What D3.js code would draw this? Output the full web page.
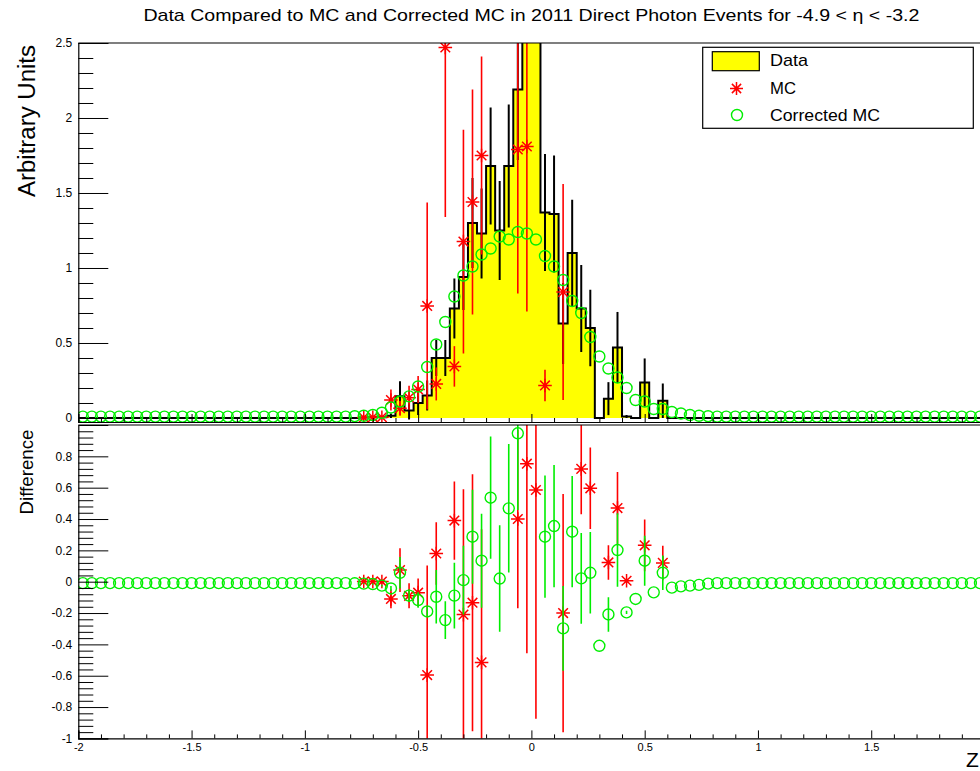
<!DOCTYPE html>
<html><head><meta charset="utf-8">
<script src="https://cdn.jsdelivr.net/npm/d3@7"></script>
<style>
body{margin:0;background:#fff}
svg{display:block}
text{font-family:"Liberation Sans",Arial,Helvetica,sans-serif;fill:#000}
</style>
</head><body>
<svg id="c" width="980" height="771"></svg>
<script>
// ---------------- data ----------------
const xMin = -2, xMax = 2, nBins = 100;
const titleText = "Data Compared to MC and Corrected MC in 2011 Direct Photon Events for -4.9 < \u03B7 < -3.2";
const seriesNames = ["Data", "MC", "Corrected MC"];

// Data histogram (bins 0..99)
const dataVals = [
  0,0,0,0,0,0,0,0,0,0,
  0,0,0,0,0,0,0,0,0,0,
  0,0,0,0,0,0,0,0,0,0,
  0,0.003,0.005,0.005,0.015,0.145,0.05,0.10,0.15,0.40,
  0.40,0.73,0.94,1.30,1.23,1.68,1.25,1.68,2.19,2.56,
  3.5,1.37,1.36,0.63,1.10,0.73,0.60,0,0.129,0.47,
  0.01,0,0.237,0,0.115,0,0,0,0,0,
  0,0,0,0,0,0,0,0,0,0,
  0,0,0,0,0,0,0,0,0,0,
  0,0,0,0,0,0,0,0,0,0];
const dataErr = [
  0,0,0,0,0,0,0,0,0,0,
  0,0,0,0,0,0,0,0,0,0,
  0,0,0,0,0,0,0,0,0,0,
  0,0.003,0.005,0.005,0.015,0.10,0.06,0.08,0.10,0.12,
  0.12,0.20,0.22,0.30,0.30,0.39,0.33,0.41,0.47,0.50,
  0.60,0.39,0.39,0.27,0.355,0.29,0.255,0,0.11,0.237,
  0.01,0,0.16,0,0.115,0,0,0,0,0,
  0,0,0,0,0,0,0,0,0,0,
  0,0,0,0,0,0,0,0,0,0,
  0,0,0,0,0,0,0,0,0,0];
// MC (null = empty bin)
const mcVals = [
  null,null,null,null,null,null,null,null,null,null,
  null,null,null,null,null,null,null,null,null,null,
  null,null,null,null,null,null,null,null,null,null,
  null,0.003,0.005,0.005,0.12,0.065,0.135,0.19,0.747,0.227,
  2.47,0.344,1.176,1.44,1.75,null,null,null,1.79,1.81,
  2.9,0.217,null,0.84,null,null,null,null,null,null,
  null,null,null,null,null,null,null,null,null,null,
  null,null,null,null,null,null,null,null,null,null,
  null,null,null,null,null,null,null,null,null,null,
  null,null,null,null,null,null,null,null,null,null];
const mcErr = [
  0,0,0,0,0,0,0,0,0,0,
  0,0,0,0,0,0,0,0,0,0,
  0,0,0,0,0,0,0,0,0,0,
  0,0.003,0.005,0.005,0.07,0.05,0.08,0.09,0.69,0.11,
  1.13,0.135,0.746,0.75,0.66,0,0,0,0.96,1.1,
  1.2,0.105,0,0.72,0,0,0,0,0,0,
  0,0,0,0,0,0,0,0,0,0,
  0,0,0,0,0,0,0,0,0,0,
  0,0,0,0,0,0,0,0,0,0,
  0,0,0,0,0,0,0,0,0,0];
// Corrected MC
const cmcVals = [
  0.009,0.009,0.009,0.009,0.009,0.009,0.009,0.009,0.009,0.009,
  0.009,0.009,0.009,0.009,0.009,0.009,0.009,0.009,0.009,0.009,
  0.009,0.009,0.009,0.009,0.009,0.009,0.009,0.009,0.009,0.009,
  0.012,0.015,0.02,0.035,0.07,0.11,0.144,0.21,0.34,0.49,
  0.64,0.81,0.95,1.01,1.09,1.13,1.21,1.19,1.24,1.23,
  1.19,1.08,1.01,0.92,0.78,0.70,0.54,0.41,0.33,0.27,
  0.20,0.12,0.11,0.06,0.06,0.04,0.03,0.02,0.015,0.012,
  0.009,0.009,0.009,0.009,0.009,0.009,0.009,0.009,0.009,0.009,
  0.009,0.009,0.009,0.009,0.009,0.009,0.009,0.009,0.009,0.009,
  0.009,0.009,0.009,0.009,0.009,0.009,0.009,0.009,0.009,0.009];
// Difference Data - MC (null = empty)
const diffMC = [
  null,null,null,null,null,null,null,null,null,null,
  null,null,null,null,null,null,null,null,null,null,
  null,null,null,null,null,null,null,null,null,null,
  null,0.001,0.001,0.001,-0.11,0.074,-0.09,-0.07,-0.596,0.18,
  -2.07,0.39,-0.21,-0.134,-0.515,1.68,1.25,1.68,0.40,0.753,
  0.585,1.15,1.36,-0.20,1.10,0.72,0.596,null,0.123,0.47,
  0.006,null,0.232,null,0.12,null,null,null,null,null,
  null,null,null,null,null,null,null,null,null,null,
  null,null,null,null,null,null,null,null,null,null,
  null,null,null,null,null,null,null,null,null,null];
const diffMCErr = [
  0,0,0,0,0,0,0,0,0,0,
  0,0,0,0,0,0,0,0,0,0,
  0,0,0,0,0,0,0,0,0,0,
  0,0.004,0.007,0.007,0.06,0.14,0.08,0.09,0.70,0.2,
  1.14,0.25,0.8,0.82,0.85,0.39,0.33,0.41,0.57,1.21,
  1.46,0.41,0.39,0.76,0.355,0.29,0.26,0,0.11,0.23,
  0.01,0,0.165,0,0.11,0,0,0,0,0,
  0,0,0,0,0,0,0,0,0,0,
  0,0,0,0,0,0,0,0,0,0,
  0,0,0,0,0,0,0,0,0,0];
// Difference Data - Corrected MC
const diffCMC = [
  -0.009,-0.009,-0.009,-0.009,-0.009,-0.009,-0.009,-0.009,-0.009,-0.009,
  -0.009,-0.009,-0.009,-0.009,-0.009,-0.009,-0.009,-0.009,-0.009,-0.009,
  -0.009,-0.009,-0.009,-0.009,-0.009,-0.009,-0.009,-0.009,-0.009,-0.009,
  -0.01,-0.012,-0.015,-0.025,-0.043,0.057,-0.089,-0.117,-0.19,-0.096,
  -0.245,-0.089,0.01,0.287,0.134,0.536,0.02,0.468,0.947,1.33,
  2.3,0.287,0.355,-0.298,0.319,0.021,0.057,-0.409,-0.209,0.202,
  -0.196,-0.11,0.134,-0.068,0.057,-0.038,-0.03,-0.025,-0.02,-0.012,
  -0.009,-0.009,-0.009,-0.009,-0.009,-0.009,-0.009,-0.009,-0.009,-0.009,
  -0.009,-0.009,-0.009,-0.009,-0.009,-0.009,-0.009,-0.009,-0.009,-0.009,
  -0.009,-0.009,-0.009,-0.009,-0.009,-0.009,-0.009,-0.009,-0.009,-0.009];
const diffCMCErr = [
  0,0,0,0,0,0,0,0,0,0,
  0,0,0,0,0,0,0,0,0,0,
  0,0,0,0,0,0,0,0,0,0,
  0,0.003,0.005,0.005,0.015,0.1,0.04,0.05,0.03,0.17,
  0.12,0.21,0.22,0.30,0.30,0.39,0.34,0.41,0.49,0.5,
  0.55,0.39,0.39,0.27,0.355,0.29,0.26,0,0.11,0.235,
  0.01,0,0.16,0,0.11,0,0,0,0,0,
  0,0,0,0,0,0,0,0,0,0,
  0,0,0,0,0,0,0,0,0,0,
  0,0,0,0,0,0,0,0,0,0];

// axis ticks / labels (the "2" label sits beyond the canvas edge in the reference)
const xMajorTicks = [-2,-1.5,-1,-0.5,0,0.5,1,1.5,2];
const xTickLabels = ["-2","-1.5","-1","-0.5","0","0.5","1","1.5",""];
const yTopMajorTicks = [0,0.5,1,1.5,2,2.5];
const yTopTickLabels = ["0","0.5","1","1.5","2","2.5"];
const yBotMajorTicks = [-1,-0.8,-0.6,-0.4,-0.2,0,0.2,0.4,0.6,0.8];
const yBotTickLabels = ["-1","-0.8","-0.6","-0.4","-0.2","0","0.2","0.4","0.6","0.8"];

// ---------------- drawing ----------------
const svg = d3.select("#c");
const binW = (xMax - xMin) / nBins;
const centers = d3.range(nBins).map(i => xMin + binW * (i + 0.5));
const edges = d3.range(nBins + 1).map(i => xMin + binW * i);

const x = d3.scaleLinear().domain([xMin, xMax]).range([78.3, 984.5]);
const yTop = d3.scaleLinear().domain([-0.0267, 2.5]).range([422, 43]);
const yBot = d3.scaleLinear().domain([-1, 1]).range([738.4, 425]);

const defs = svg.append("defs");
defs.append("clipPath").attr("id","clipTop").append("rect")
  .attr("x", x(xMin)).attr("y", yTop(2.5)).attr("width", x(xMax)-x(xMin)).attr("height", yTop.range()[0]-yTop(2.5));
defs.append("clipPath").attr("id","clipBot").append("rect")
  .attr("x", x(xMin)).attr("y", yBot(1)).attr("width", x(xMax)-x(xMin)).attr("height", yBot(-1)-yBot(1));

const RED = "#ff0000", GREEN = "#00ee00";

function asterisk(g, cx, cy, s, color) {
  const d = s * 0.707;
  const p = `M${cx-s},${cy}H${cx+s}M${cx},${cy-s}V${cy+s}M${cx-d},${cy-d}L${cx+d},${cy+d}M${cx-d},${cy+d}L${cx+d},${cy-d}`;
  g.append("path").attr("d", p).attr("stroke", color).attr("stroke-width", 1.5).attr("fill","none");
}
function inDomain(v, sc) { const d = sc.domain(); return v != null && v >= d[0] && v <= d[1]; }

// ---- top pad ----
const topG = svg.append("g").attr("clip-path","url(#clipTop)");
const fillPath = d3.path();
fillPath.moveTo(x(edges[0]), yTop(0));
dataVals.forEach((v,i) => { fillPath.lineTo(x(edges[i]), yTop(v)); fillPath.lineTo(x(edges[i+1]), yTop(v)); });
fillPath.lineTo(x(edges[nBins]), yTop(0));
fillPath.closePath();
topG.append("path").attr("d", fillPath.toString()).attr("fill","#ffff00").attr("stroke","none");
const outline = d3.path();
outline.moveTo(x(edges[0]), yTop(0));
dataVals.forEach((v,i) => { outline.lineTo(x(edges[i]), yTop(v)); outline.lineTo(x(edges[i+1]), yTop(v)); });
outline.lineTo(x(edges[nBins]), yTop(0));
topG.append("path").attr("d", outline.toString()).attr("fill","none").attr("stroke","#000").attr("stroke-width",2);
dataVals.forEach((v,i) => {
  if (v > 0 && inDomain(v, yTop)) {
    topG.append("line").attr("x1", x(centers[i])).attr("x2", x(centers[i]))
      .attr("y1", yTop(v - dataErr[i])).attr("y2", yTop(v + dataErr[i]))
      .attr("stroke","#000").attr("stroke-width",2);
  }
});
mcVals.forEach((v,i) => {
  if (inDomain(v, yTop)) {
    topG.append("line").attr("x1", x(centers[i])).attr("x2", x(centers[i]))
      .attr("y1", yTop(v - mcErr[i])).attr("y2", yTop(v + mcErr[i]))
      .attr("stroke",RED).attr("stroke-width",1.6);
    asterisk(topG, x(centers[i]), yTop(v), 6.8, RED);
  }
});
cmcVals.forEach((v,i) => {
  if (inDomain(v, yTop)) {
    topG.append("circle").attr("cx", x(centers[i])).attr("cy", yTop(v)).attr("r", 5.5)
      .attr("fill","none").attr("stroke",GREEN).attr("stroke-width",1.4);
  }
});

svg.append("line").attr("x1", x(xMin)).attr("x2", 980).attr("y1", yTop(2.5)).attr("y2", yTop(2.5))
  .attr("stroke","#000").attr("stroke-width",1.2);
const minorOf = (lo, hi, step, majorStep) => d3.range(lo, hi + step/2, step)
  .filter(v => Math.abs(v/majorStep - Math.round(v/majorStep)) > 1e-6);
const yTopAxis = d3.axisLeft(yTop).tickValues(yTopMajorTicks).tickSize(-30).tickPadding(6)
  .tickFormat((d,i) => yTopTickLabels[i]);
const gyt = svg.append("g").attr("transform", `translate(${x(xMin)},0)`).call(yTopAxis);
gyt.selectAll("text").style("font-size","12px");
svg.append("g").attr("transform", `translate(${x(xMin)},0)`)
  .call(d3.axisLeft(yTop).tickValues(minorOf(0, 2.5, 0.1, 0.5)).tickSize(-15).tickFormat(""))
  .select(".domain").remove();
svg.append("g").attr("transform", `translate(0,${yTop.range()[0]})`)
  .call(d3.axisBottom(x).tickValues(xMajorTicks).tickSize(-8).tickFormat(""));
svg.append("g").attr("transform", `translate(0,${yTop.range()[0]})`)
  .call(d3.axisBottom(x).tickValues(minorOf(-2, 2, 0.1, 0.5)).tickSize(-4).tickFormat(""))
  .select(".domain").remove();

// ---- bottom pad ----
const botG = svg.append("g").attr("clip-path","url(#clipBot)");
diffMC.forEach((v,i) => {
  if (inDomain(v, yBot)) {
    botG.append("line").attr("x1", x(centers[i])).attr("x2", x(centers[i]))
      .attr("y1", yBot(v - diffMCErr[i])).attr("y2", yBot(v + diffMCErr[i]))
      .attr("stroke",RED).attr("stroke-width",1.6);
    asterisk(botG, x(centers[i]), yBot(v), 6.8, RED);
  }
});
diffCMC.forEach((v,i) => {
  if (inDomain(v, yBot)) {
    if (diffCMCErr[i] > 0) {
      botG.append("line").attr("x1", x(centers[i])).attr("x2", x(centers[i]))
        .attr("y1", yBot(v - diffCMCErr[i])).attr("y2", yBot(v + diffCMCErr[i]))
        .attr("stroke",GREEN).attr("stroke-width",1.6);
    }
    botG.append("circle").attr("cx", x(centers[i])).attr("cy", yBot(v)).attr("r", 5.5)
      .attr("fill","none").attr("stroke",GREEN).attr("stroke-width",1.4);
  }
});
svg.append("line").attr("x1", x(xMin)).attr("x2", 980).attr("y1", yBot(1)).attr("y2", yBot(1))
  .attr("stroke","#000").attr("stroke-width",1);
const yBotAxis = d3.axisLeft(yBot).tickValues(yBotMajorTicks).tickSize(-30).tickPadding(6)
  .tickFormat((d,i) => yBotTickLabels[i]);
const gyb = svg.append("g").attr("transform", `translate(${x(xMin)},0)`).call(yBotAxis);
gyb.selectAll("text").style("font-size","12px");
svg.append("g").attr("transform", `translate(${x(xMin)},0)`)
  .call(d3.axisLeft(yBot).tickValues(minorOf(-1, 1, 0.04, 0.2)).tickSize(-15).tickFormat(""))
  .select(".domain").remove();
const xBotAxis = d3.axisBottom(x).tickValues(xMajorTicks).tickSize(-8).tickPadding(5)
  .tickFormat((d,i) => xTickLabels[i]);
const gxb = svg.append("g").attr("transform", `translate(0,${yBot(-1)})`).call(xBotAxis);
gxb.selectAll("text").style("font-size","11px");
svg.append("g").attr("transform", `translate(0,${yBot(-1)})`)
  .call(d3.axisBottom(x).tickValues(minorOf(-2, 2, 0.1, 0.5)).tickSize(-4).tickFormat(""))
  .select(".domain").remove();

svg.selectAll(".tick line").attr("stroke","#000").attr("stroke-width",1);
svg.selectAll(".domain").attr("stroke","#000").attr("stroke-width",1.2);
svg.selectAll(".tick text").style("font-family",'"Liberation Sans",Arial,sans-serif');

// ---- texts ----
svg.append("text").attr("x", x(0)).attr("y", 21).attr("text-anchor","middle")
  .style("font-size","17px").attr("textLength", 776).attr("lengthAdjust","spacingAndGlyphs").text(titleText);
svg.append("text").attr("transform","translate(35,121) rotate(-90)").attr("text-anchor","middle")
  .style("font-size","23px").attr("textLength",152).attr("lengthAdjust","spacingAndGlyphs").text("Arbitrary Units");
svg.append("text").attr("transform","translate(33,472) rotate(-90)").attr("text-anchor","middle")
  .style("font-size","18px").attr("textLength",85).attr("lengthAdjust","spacingAndGlyphs").text("Difference");
svg.append("text").attr("x", 966).attr("y", 767).style("font-size","21px").text("Z");

// ---- legend ----
const lg = svg.append("g");
lg.append("rect").attr("x",702.7).attr("y",47.3).attr("width",270.6).attr("height",81)
  .attr("fill","#fff").attr("stroke","#000").attr("stroke-width",1.2);
lg.append("rect").attr("x",712.3).attr("y",51.7).attr("width",47).attr("height",19)
  .attr("fill","#ffff00").attr("stroke","#000").attr("stroke-width",1.2);
asterisk(lg, 736.5, 88.5, 6.5, RED);
lg.append("circle").attr("cx",737).attr("cy",115).attr("r",5.5).attr("fill","none").attr("stroke",GREEN).attr("stroke-width",1.4);
const legendY = [66, 93.5, 120.5];
const legendLen = [38, 26, 110];
seriesNames.forEach((n,i) => {
  lg.append("text").attr("x",770).attr("y",legendY[i]).style("font-size","17px")
    .attr("textLength", legendLen[i]).attr("lengthAdjust","spacingAndGlyphs").text(n);
});
</script>
</body></html>
